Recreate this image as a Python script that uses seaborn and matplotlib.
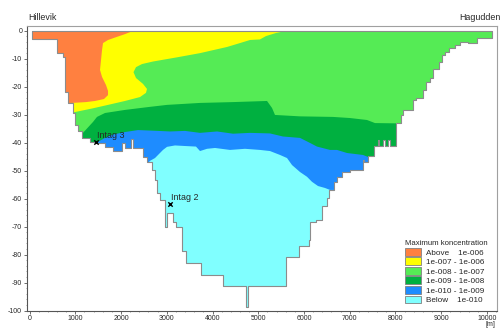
import matplotlib
matplotlib.use('Agg')
import matplotlib.pyplot as plt
import numpy as np
import seaborn as sns
from matplotlib.patches import Patch
from matplotlib.ticker import MultipleLocator

sns.set_style('ticks')
plt.rcParams['font.family'] = ['Liberation Sans', 'DejaVu Sans']
plt.rcParams['axes.unicode_minus'] = False

# bottom profile: start of each step (m) and depth of the step (m)
bed_x = [48, 608, 726, 776, 848, 957, 995, 1067, 1154, 1322, 1432, 1650, 1832,
         2028, 2087, 2212, 2269, 2474, 2562, 2671, 2743, 2787, 2853, 2962, 3012,
         3143, 3202, 3327, 3421, 3749, 4236, 4726, 4783, 5607, 5891, 6110, 6135,
         6273, 6400, 6492, 6557, 6645, 6732, 6820, 7006, 7284, 7320, 7405, 7530,
         7611, 7646, 7734, 7771, 7843, 7880, 8012, 8115, 8171, 8383, 8442, 8608,
         8660, 8754, 8826, 8951, 9010, 9082, 9170, 9301, 9421, 9591, 9771]
bed_z = [-3.0, -8.1, -9.3, -21.8, -25.9, -29.5, -33.7, -35.8, -38.2, -39.6, -40.2,
         -41.4, -43.1, -40.1, -41.9, -38.7, -41.9, -45.0, -46.8, -49.8, -53.3,
         -58.0, -60.5, -70.0, -65.0, -68.2, -70.1, -78.9, -83.1, -87.3, -91.1,
         -98.9, -91.1, -81.0, -77.1, -74.8, -68.3, -67.6, -62.6, -59.8, -56.9,
         -54.0, -52.1, -50.4, -49.7, -46.3, -46.8, -44.9, -41.2, -39.0, -41.2,
         -39.0, -41.2, -39.0, -41.2, -33.0, -30.1, -28.3, -24.7, -23.9, -21.2,
         -18.2, -17.0, -13.7, -11.2, -8.7, -7.5, -6.3, -5.1, -3.9, -4.5, -2.7]
bed_end = 10120

# class boundaries (x in m, depth in m)
cyan_top_x = [2590, 2634, 2743, 2918, 3006, 3180, 3399, 3639, 3727, 3880, 4055,
              4383, 4710, 5038, 5257, 5476, 5629, 5738, 5913, 6066, 6175, 6306,
              6459, 6569]
cyan_top_z = [-47.3, -46.5, -45.5, -42.6, -41.5, -41.0, -41.2, -41.4, -43.0, -42.2,
              -41.9, -42.6, -42.2, -42.6, -43.0, -44.4, -45.5, -48.0, -50.5, -52.2,
              -54.0, -55.5, -56.2, -56.9]
blue_top_x = [1454, 1650, 1803, 2087, 2372, 2809, 3071, 3399, 3727, 4100, 4450,
              4820, 5257, 5541, 5913, 6131, 6284, 6569, 6722, 6940, 7290, 7399]
blue_top_z = [-40.1, -38.3, -37.2, -36.2, -35.5, -35.8, -36.0, -35.8, -36.5, -36.0,
              -36.8, -36.5, -36.7, -37.8, -38.3, -40.1, -41.4, -42.6, -42.6, -43.7,
              -44.4, -45.1]
dgreen_top_x = [1169, 1388, 1475, 1650, 2087, 2634, 3006, 3727, 4448, 4820, 5192,
                5301, 5366, 5913, 6634, 7006, 7377, 7552, 8012]
dgreen_top_z = [-36.5, -32.6, -30.8, -29.4, -28.3, -27.2, -26.5, -25.8, -25.5, -25.3,
                -25.1, -27.6, -30.1, -30.6, -30.8, -31.2, -31.9, -33.0, -33.1]
yellow_x = [951, 1366, 1716, 2087, 2415, 2546, 2568, 2481, 2328, 2273, 2328, 2459,
            2699, 3224, 3727, 4317, 4601, 4820, 5038, 5169, 5388, 5629]
yellow_z = [-29.2, -27.8, -26.5, -25.1, -23.7, -22.2, -20.8, -19.0, -16.9, -14.8,
            -13.0, -11.9, -11.0, -9.5, -8.0, -5.8, -4.4, -3.3, -3.1, -1.9, -0.8, 0.0]
orange_x = [2273, 2087, 1891, 1716, 1607, 1585, 1563, 1541, 1585, 1672, 1716, 1716,
            1628, 1432, 1235, 929]
orange_z = [0.0, -1.2, -2.3, -3.3, -4.4, -6.9, -10.5, -14.0, -16.5, -19.4, -21.5,
            -23.0, -24.4, -25.1, -25.5, -25.8]

class_labels = ['Above    1e-006', '1e-007 - 1e-006', '1e-008 - 1e-007',
                '1e-009 - 1e-008', '1e-010 - 1e-009', 'Below    1e-010']
class_colors = ['#ff8040', '#ffff00', '#55eb55', '#00b040', '#1e8cff', '#80ffff']

intag_names = ['Intag 3', 'Intag 2']
intag_x = [1446, 3071]
intag_z = [-39.6, -61.9]

fig = plt.figure(figsize=(5.02, 3.36), dpi=100)
ax = fig.add_axes([27 / 502, 25.5 / 336, 470 / 502, 284.5 / 336])

bx = bed_x + [bed_end]
bz = bed_z + [bed_z[-1]]
water = ax.fill_between(bx, bz, 0, step='post', facecolor=class_colors[5],
                        edgecolor='none', lw=0, zorder=1)
clip = water.get_paths()[0]

far = (-500, 10800)


def above(xs, zs, color, z):
    x = np.r_[far[0], xs, far[1]]
    y = np.r_[zs[0], zs, zs[-1]]
    c = ax.fill_between(x, y, 5, facecolor=color, edgecolor='none', lw=0, zorder=z)
    c.set_clip_path(clip, ax.transData)


def left_of(xs, zs, color, z):
    y = np.r_[5, zs]
    x = np.r_[xs[0], xs]
    c = ax.fill_betweenx(y, far[0], x, facecolor=color, edgecolor='none', lw=0, zorder=z)
    c.set_clip_path(clip, ax.transData)


above(cyan_top_x, cyan_top_z, class_colors[4], 1.1)
above(blue_top_x, blue_top_z, class_colors[3], 1.2)
above(dgreen_top_x, dgreen_top_z, class_colors[2], 1.3)
left_of(yellow_x, yellow_z, class_colors[1], 1.4)
left_of(orange_x, orange_z, class_colors[0], 1.5)

ax.fill_between(bx, bz, 0, step='post', facecolor='none', edgecolor='#8c8c8c',
                lw=0.8, zorder=3)

sns.scatterplot(x=intag_x, y=intag_z, marker='x', color='black', s=10,
                linewidth=1, ax=ax, zorder=4, legend=False)
for name, x, z in zip(intag_names, intag_x, intag_z):
    ax.text(x + 25, z + 2.2, name, fontsize=6.4, va='center', ha='left', zorder=4)

ax.set_xlim(-55, 10219)
ax.set_ylim(-100, 1.7)
ax.set_xticks(np.arange(0, 10001, 1000))
ax.set_yticks(np.arange(-100, 1, 10))
ax.xaxis.set_minor_locator(MultipleLocator(200))
ax.yaxis.set_minor_locator(MultipleLocator(2))
ax.tick_params(which='major', length=2, width=0.6, labelsize=5, pad=1.5, color='#555555')
ax.tick_params(which='minor', length=1, width=0.5, color='#777777')
for s in ['left', 'bottom']:
    ax.spines[s].set_linestyle((0, (1, 1)))
    ax.spines[s].set_color('#555555')
    ax.spines[s].set_linewidth(0.8)
for s in ['top', 'right']:
    ax.spines[s].set_color('#a0a0a0')
    ax.spines[s].set_linewidth(0.8)

handles = [Patch(facecolor=c, edgecolor='#808080', lw=0.6) for c in class_colors]
ax.legend(handles, class_labels, title='Maximum koncentration', loc='upper left',
          bbox_to_anchor=(405 / 502, 1 - 240 / 336), bbox_transform=fig.transFigure,
          frameon=False, fontsize=5.9, title_fontsize=5.6, handlelength=1.9,
          handleheight=1.1, handletextpad=0.7, labelspacing=0.1, borderpad=0,
          borderaxespad=0, alignment='left')

fig.text(28 / 502, 1 - 17 / 336, 'Hillevik', fontsize=6.4, va='center', ha='left')
fig.text(501 / 502, 1 - 17 / 336, 'Hagudden', fontsize=6.4, va='center', ha='right')
fig.text(490 / 502, 1 - 324.5 / 336, '[m]', fontsize=5, va='center', ha='center')

fig.savefig('out.png', dpi=100)
